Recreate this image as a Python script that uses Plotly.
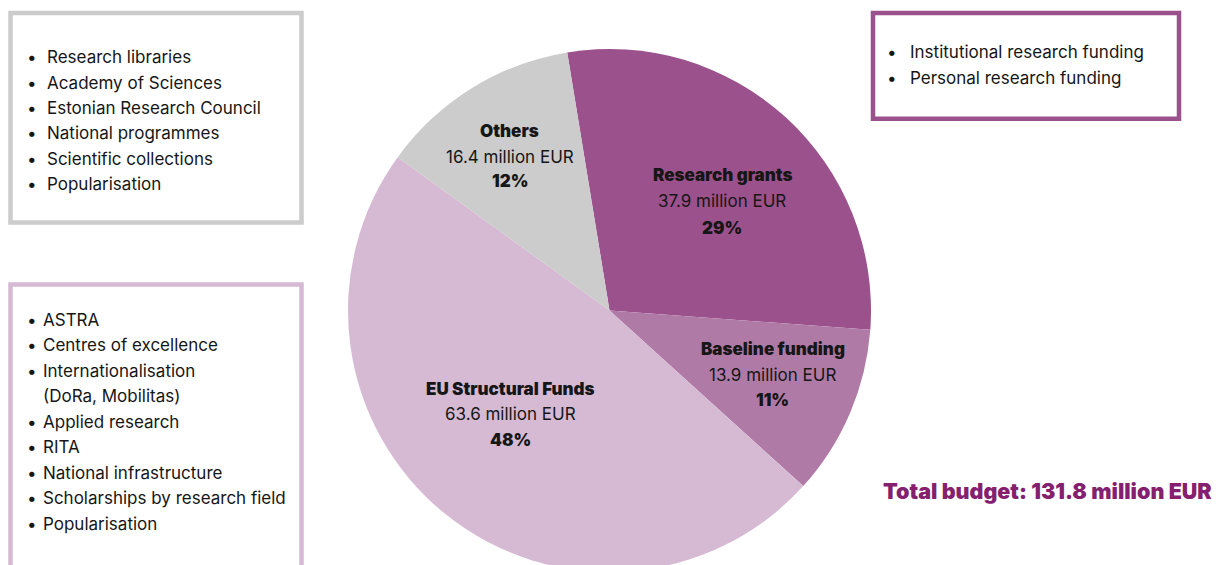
import plotly.graph_objects as go

# Funding breakdown (million EUR)
categories = ["Research grants", "Baseline funding", "EU Structural Funds", "Others"]
values = [37.9, 13.9, 63.6, 16.4]
slice_colors = ["#9b518c", "#b07aa6", "#d6bad4", "#cbcccb"]

box_grey_items = ["Research libraries", "Academy of Sciences", "Estonian Research Council",
                  "National programmes", "Scientific collections", "Popularisation"]
box_eu_items = ["ASTRA", "Centres of excellence", "Internationalisation", "(DoRa, Mobilitas)",
                "Applied research", "RITA", "National infrastructure",
                "Scholarships by research field", "Popularisation"]
box_grants_items = ["Institutional research funding", "Personal research funding"]

W, H = 1218, 580
FONT = "Inter"
TXT = "#161616"
FS = 17


def px(x):
    return x / W


def py(y):
    return 1 - y / H


total = sum(values)
pcts = [round(v / total * 100) for v in values]

# pie geometry in pixels
cx, cy, r = 609.5, 310.5, 261.5

fig = go.Figure(go.Pie(
    labels=categories,
    values=values,
    sort=False,
    direction="clockwise",
    rotation=-9.3,
    marker=dict(colors=slice_colors, line=dict(width=0)),
    textinfo="none",
    hoverinfo="label+value+percent",
    showlegend=False,
    domain=dict(x=[px(cx - r), px(cx + r)], y=[py(cy + r), py(cy - r)]),
))

annotations = []
shapes = []

# slice labels: name / amount / share
label_pos = {
    "Research grants": (722, [176, 202.5, 229]),
    "Baseline funding": (772.5, [350, 375.5, 401]),
    "EU Structural Funds": (510, [389.5, 415, 440.5]),
    "Others": (509.5, [132, 158, 182]),
}
for name, val, pct in zip(categories, values, pcts):
    x, ys = label_pos[name]
    lines = [(name, 900), (f"{val} million EUR", 400), (f"{pct}%", 900)]
    for (t, wgt), y in zip(lines, ys):
        annotations.append(dict(
            x=px(x), y=py(y - 1), xref="paper", yref="paper", text=t, showarrow=False,
            xanchor="center", yanchor="middle",
            font=dict(family=FONT, size=FS, color=TXT, weight=wgt)))


def bullet_box(items, x0, y0, x1, y1, color, bullet_x, text_x, first_y, step):
    shapes.append(dict(type="rect", xref="paper", yref="paper",
                       x0=px(x0), x1=px(x1), y0=py(y1), y1=py(y0),
                       line=dict(color=color, width=4.5), fillcolor="rgba(0,0,0,0)"))
    for i, item in enumerate(items):
        y = first_y + i * step
        if not item.startswith("("):
            annotations.append(dict(
                x=px(bullet_x), y=py(y - 1), xref="paper", yref="paper", text="•",
                showarrow=False, xanchor="center", yanchor="middle",
                font=dict(family=FONT, size=FS, color=TXT)))
        annotations.append(dict(
            x=px(text_x - 2), y=py(y - 1), xref="paper", yref="paper", text=item,
            showarrow=False, xanchor="left", yanchor="middle",
            font=dict(family=FONT, size=FS, color=TXT)))


bullet_box(box_grey_items, 10.5, 13, 301.5, 222.5, "#cccccc", 32, 47, 58, 25.5)
bullet_box(box_eu_items, 10.5, 284.5, 301.5, 600, "#d6bad4", 32, 43, 320.5, 25.5)
bullet_box(box_grants_items, 873, 13, 1179, 118.8, "#9b518c", 892, 910, 53.3, 25.7)

annotations.append(dict(
    x=px(1214), y=py(491), xref="paper", yref="paper",
    text=f"Total budget: {total:.1f} million EUR", showarrow=False,
    xanchor="right", yanchor="middle",
    font=dict(family=FONT, size=21.5, color="#85206f", weight=900)))

fig.update_layout(
    width=W, height=H,
    margin=dict(l=0, r=0, t=0, b=0),
    paper_bgcolor="white", plot_bgcolor="white",
    annotations=annotations, shapes=shapes,
)

fig.write_html("out.html",
               post_script="document.documentElement.style.overflow='hidden';"
                           "document.body.style.overflow='hidden';")
